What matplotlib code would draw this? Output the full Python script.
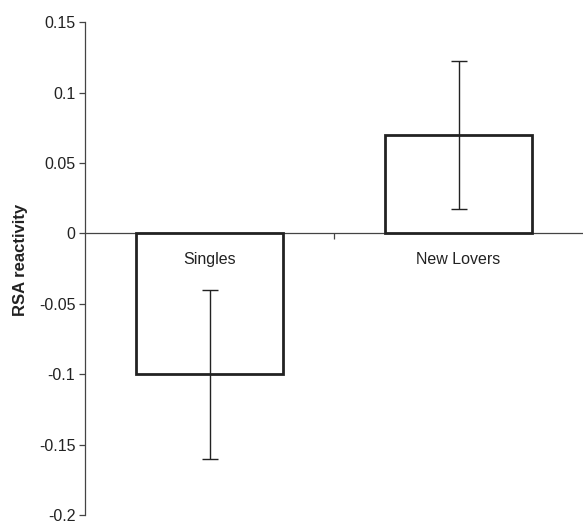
import matplotlib
matplotlib.use("Agg")
import matplotlib.pyplot as plt
import numpy as np

categories = ["Singles", "New Lovers"]
values = [-0.10, 0.07]
errors = [0.06, 0.0527]
yticks = [-0.2, -0.15, -0.1, -0.05, 0, 0.05, 0.1, 0.15]
ytick_labels = ["-0.2", "-0.15", "-0.1", "-0.05", "0", "0.05", "0.1", "0.15"]

plt.rcParams['font.family'] = ['Liberation Sans', 'DejaVu Sans']

fig = plt.figure(figsize=(5.83, 5.21), dpi=100)
ax = fig.add_axes([85/583, 1-515/521, 1-85/583, (515-22.3)/521])
ax.set_axisbelow(False)

x = np.arange(len(categories))
ax.bar(x, values, width=0.59, facecolor='white', edgecolor='#222222', linewidth=2.0, zorder=2)
ax.errorbar(x, values, yerr=errors, fmt='none', ecolor='#222222', elinewidth=1.0,
            capsize=6, capthick=1.0, zorder=2.2)

ax.set_xlim(-0.5, 1.5)
ax.set_ylim(-0.2, 0.15)
ax.set_yticks(yticks)
ax.set_yticklabels(ytick_labels)
ax.set_xticks(x)
ax.set_xticklabels(categories)
ax.set_xticks([0.5], minor=True)

for s in ['top', 'right']:
    ax.spines[s].set_visible(False)
ax.spines['bottom'].set_position(('data', 0))
ax.spines['bottom'].set_color('#444444')
ax.spines['bottom'].set_linewidth(0.9)
ax.spines['bottom'].set_zorder(1)
ax.spines['left'].set_color('#444444')
ax.spines['left'].set_linewidth(0.9)

ax.tick_params(axis='y', direction='out', length=4, width=0.9, color='#444444',
               labelsize=11.5, labelcolor='#222222', pad=3)
ax.tick_params(axis='x', which='major', length=0, pad=13, labelsize=11.5, labelcolor='#222222')
ax.tick_params(axis='x', which='minor', direction='out', length=4, width=0.9, color='#444444')

ax.set_ylabel("RSA reactivity", fontsize=12, fontweight='bold', color='#222222')
ax.yaxis.set_label_coords(-0.115, 0.5175)

fig.savefig("out.png", dpi=100)
